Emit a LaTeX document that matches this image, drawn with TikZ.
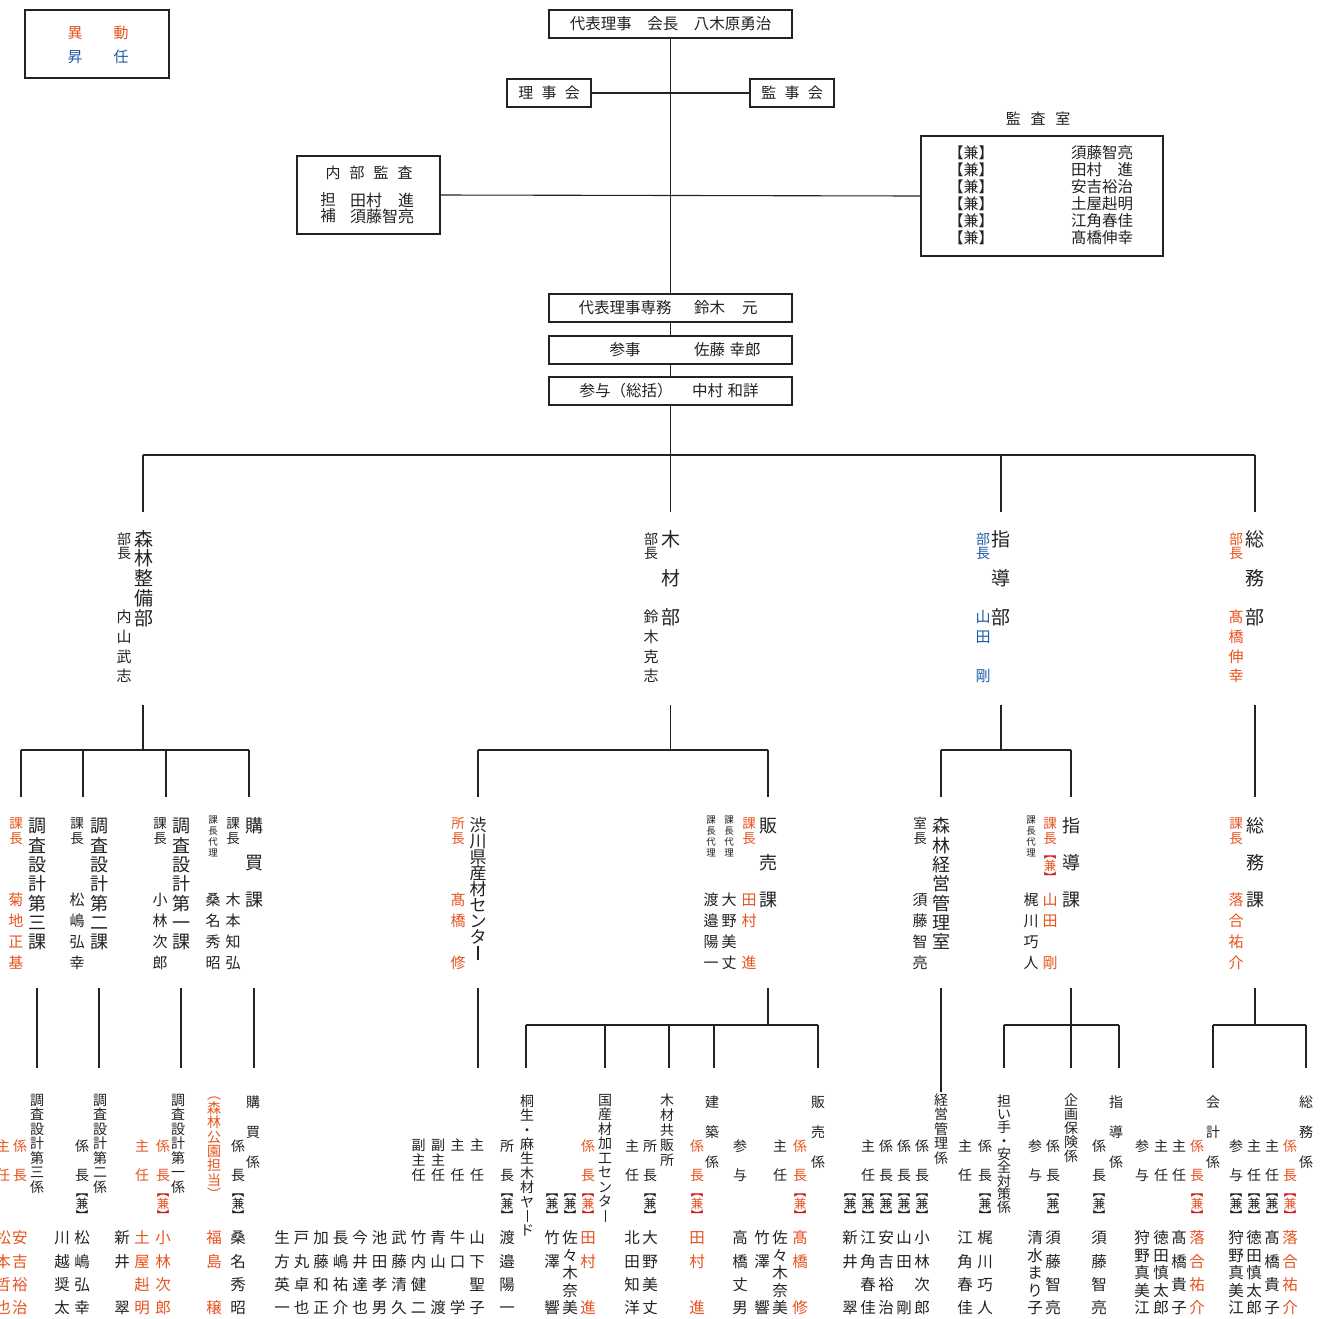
\documentclass[tikz,border=0pt]{standalone}
\usepackage{fontspec}
\setmainfont{Noto Sans CJK JP}
\definecolor{ored}{HTML}{E8531F}
\definecolor{oblue}{HTML}{1D5BAA}
\definecolor{bred}{HTML}{D01A1A}
\definecolor{ink}{HTML}{222222}
\newcommand\cjkstrut{\vrule height .88em depth .12em width 0pt\relax}
\newcommand\vlong{\rule[-0.04em]{0.065em}{0.84em}}
\ExplSyntaxOn
\cs_new_protected:Npn \my_vt:nn #1#2
 {
  \vbox:n
   {
    \skip_set:Nn \baselineskip {#1}
    \skip_set:Nn \lineskip {0pt}
    \dim_set:Nn \lineskiplimit {-1000pt}
    \tl_map_inline:nn {#2}
     { \hbox_to_wd:nn {1em} { \hfil \cjkstrut ##1 \hfil } }
   }
 }
\cs_generate_variant:Nn \my_vt:nn {no}
\NewDocumentCommand\vt{mm}{ \my_vt:no {#1} {#2} }
\ExplSyntaxOff
% \vc[opts]{name}{x}{y of first char centre}{pitch}{size}{chars}
\newcommand\vc[7][]{\node[vcol,#1] (#2) at (#3,{#4-0.5*#6}) {\fontsize{#6}{#6}\selectfont\vt{#5pt}{#7}};}
% \kenv{name}{x}{y centre}{bracket colour}{ken colour}
\newcommand\kenv[5]{\vc{#1}{#2}{#3-12}{12}{12.5}{{\color{#4}︻}{\color{#5}兼}{\color{#4}︼}}}
\begin{document}
\begin{tikzpicture}[x=1pt,y=-1pt,
  ln/.style={draw=ink, line width=1.1pt},
  box/.style={draw=ink, line width=1.3pt, inner sep=0pt, text=ink},
  tx/.style={inner sep=0pt, outer sep=0pt, text=ink, font=\fontsize{#1}{#1}\selectfont, execute at begin node=\cjkstrut},
  vcol/.style={anchor=north, inner sep=0pt, outer sep=0pt, text=ink}]
\useasboundingbox (0,0) rectangle (1321,1318);
\fill[white] (0,0) rectangle (1321,1318);

% ---------- legend ----------
\node[box, minimum width=144pt, minimum height=68pt] (legend) at (97,44) {};
\node[tx=15, text=ored] (lg1) at (75,33) {異};
\node[tx=15, text=ored] (lg2) at (121,33) {動};
\node[tx=15, text=oblue] (lg3) at (75,57) {昇};
\node[tx=15, text=oblue] (lg4) at (121,57) {任};

% ---------- top ----------
\node[box, minimum width=243pt, minimum height=28pt, font=\fontsize{15.5}{15.5}\selectfont] (pres) at (670.5,24) {代表理事　会長　八木原勇治};
\node[box, minimum width=84pt, minimum height=28pt, font=\fontsize{15}{15}\selectfont] (riji) at (549,93) {理\hspace{.55em}事\hspace{.55em}会};
\node[box, minimum width=84pt, minimum height=28pt, font=\fontsize{15}{15}\selectfont] (kanji) at (792,93) {監\hspace{.55em}事\hspace{.55em}会};

\node[box, minimum width=143pt, minimum height=78pt] (naibu) at (368.5,195) {};
\node[tx=15] (nb1) at (369,173) {内\hspace{.6em}部\hspace{.6em}監\hspace{.6em}査};
\node[tx=15.5] (nb2) at (328,200) {担};
\node[tx=15.5] (nb3) at (328,216) {補};
\node[tx=16, anchor=west] (nb4) at (350,200) {田村　進};
\node[tx=16, anchor=west] (nb5) at (350,216) {須藤智亮};

\node[tx=15] (kslabel) at (1038,119) {監\hspace{.65em}査\hspace{.65em}室};
\node[box, minimum width=242pt, minimum height=120pt] (kansa) at (1042,196) {};
\foreach \nm [count=\i from 0] in {須藤智亮,田村　進,安吉裕治,土屋赳明,江角春佳,髙橋伸幸} {
  \node[tx=15, anchor=west] (kk\i) at (948.5,{153+17*\i}) {【兼】};
  \node[tx=15.5, anchor=west] (kn\i) at (1071,{153+17*\i}) {\nm};
}

\node[box, minimum width=243pt, minimum height=28pt] (senmu) at (670.5,308) {};
\node[tx=15.5] (senmuL) at (625,308) {代表理事専務};
\node[tx=15.5, anchor=west] (senmuR) at (694,308) {鈴木\hspace{1.1em}元};
\node[box, minimum width=243pt, minimum height=28pt] (sanji) at (670.5,350) {};
\node[tx=15.5] (sanjiL) at (625,350) {参事};
\node[tx=15.5, anchor=west] (sanjiR) at (694,350) {佐藤\hspace{.3em}幸郎};
\node[box, minimum width=243pt, minimum height=28pt] (sanyo) at (670.5,391) {};
\node[tx=15.5] (sanyoL) at (626,391) {参与（総括）};
\node[tx=15.5, anchor=west] (sanyoR) at (692,391) {中村\hspace{.3em}和詳};

% ---------- top connectors ----------
\draw[ln] (pres.south) -- (senmu.north);
\draw[ln] (riji.east) -- (kanji.west);
\draw[ln] (naibu.east) -- (kansa.west);
\draw[ln] (senmu.south) -- (sanji.north);
\draw[ln] (sanji.south) -- (sanyo.north);
\coordinate (bM) at (670.5,455);
\draw[ln] (sanyo.south) -- (bM);
\coordinate (bL) at (143,455);
\coordinate (bR) at (1255,455);
\draw[ln] (bL) -- (bR);
\foreach \n/\x in {A/143,B/670.5,C/1001,D/1255} {
  \coordinate (u\n) at (\x,455); \coordinate (v\n) at (\x,512); \draw[ln] (u\n) -- (v\n);
}
\foreach \n/\x/\yb in {A/143/750,B/670.5/750,C/1001/750,D/1255/797} {
  \coordinate (w\n) at (\x,705); \coordinate (z\n) at (\x,\yb); \draw[ln] (w\n) -- (z\n);
}
\coordinate (sb1) at (21,750); \coordinate (sb2) at (249,750); \draw[ln] (sb1) -- (sb2);
\coordinate (sb3) at (478,750); \coordinate (sb4) at (768,750); \draw[ln] (sb3) -- (sb4);
\coordinate (sb5) at (941,750); \coordinate (sb6) at (1071,750); \draw[ln] (sb5) -- (sb6);
\foreach \x in {21,83,166,249,478,768,941,1071} {
  \coordinate (q\x) at (\x,750); \coordinate (r\x) at (\x,797); \draw[ln] (q\x) -- (r\x);
}
\foreach \x/\yb in {37/1068,99/1068,181/1068,254/1068,478/1068,768/1025,941/1092,1071/1068,1255/1025} {
  \coordinate (s\x) at (\x,988); \coordinate (t\x) at (\x,\yb); \draw[ln] (s\x) -- (t\x);
}
\coordinate (ub1) at (526,1025); \coordinate (ub2) at (818,1025); \draw[ln] (ub1) -- (ub2);
\coordinate (ub3) at (1004,1025); \coordinate (ub4) at (1119,1025); \draw[ln] (ub3) -- (ub4);
\coordinate (ub5) at (1213,1025); \coordinate (ub6) at (1306,1025); \draw[ln] (ub5) -- (ub6);
\foreach \x in {526,605,669,714,818,1004,1119,1213,1306} {
  \coordinate (m\x) at (\x,1025); \coordinate (n\x) at (\x,1068); \draw[ln] (m\x) -- (n\x);
}

% ---------- departments ----------
\vc{dA}{144}{539}{19.7}{19}{森林整備部}
\vc{dAt}{124}{539}{14}{14}{部長}
\vc{dAn}{124}{617}{19.7}{15}{内山武志}
\vc{dB}{670.5}{539}{19.5}{19}{木~材~部}
\vc{dBt}{651}{539}{14}{14}{部長}
\vc{dBn}{651}{617}{19.7}{15}{鈴木克志}
\vc{dC}{1001}{539}{19.5}{19}{指~導~部}
\vc[text=oblue]{dCt}{983}{539}{14}{14}{部長}
\vc[text=oblue]{dCn}{983}{617}{19.7}{15}{山田~剛}
\vc{dD}{1255}{539}{19.5}{19}{総~務~部}
\vc[text=ored]{dDt}{1236}{539}{14}{14}{部長}
\vc[text=ored]{dDn}{1236}{617}{19.7}{15}{髙橋伸幸}

% ---------- sections ----------
\vc{sA}{37}{826}{19.3}{18}{調査設計第三課}
\vc[text=ored]{sAt}{16}{823}{15}{13.5}{課長}
\vc[text=ored]{sAn}{16}{900}{20.8}{15}{菊地正基}
\vc{sB}{99}{826}{19.3}{18}{調査設計第二課}
\vc{sBt}{77}{823}{15}{13.5}{課長}
\vc{sBn}{77}{900}{20.8}{15}{松嶋弘幸}
\vc{sC}{181}{826}{19.3}{18}{調査設計第一課}
\vc{sCt}{160}{823}{15}{13.5}{課長}
\vc{sCn}{160}{900}{20.8}{15}{小林次郎}
\vc{sD}{254}{826}{18.5}{18}{購~買~課}
\vc{sDt}{233}{823}{15}{13.5}{課長}
\vc{sDd}{213}{820}{11}{9.5}{課長代理}
\vc{sDn1}{233}{900}{20.8}{15}{木本知弘}
\vc{sDn2}{213}{900}{20.8}{15}{桑名秀昭}
\vc{sE}{478}{825}{16}{17}{渋川県産材センタ\vlong}
\vc[text=ored]{sEt}{458}{823}{15}{13.5}{所長}
\vc[text=ored]{sEn}{458}{900}{20.8}{15}{髙橋~修}
\vc{sF}{768}{826}{18.5}{18}{販~売~課}
\vc[text=ored]{sFt}{749}{823}{15}{13.5}{課長}
\vc{sFd1}{729}{820}{11}{9.5}{課長代理}
\vc{sFd2}{711}{820}{11}{9.5}{課長代理}
\vc[text=ored]{sFn1}{749}{900}{20.8}{15}{田村~進}
\vc{sFn2}{729}{900}{20.8}{15}{大野美丈}
\vc{sFn3}{711}{900}{20.8}{15}{渡邉陽一}
\vc{sG}{941}{826}{19.3}{18}{森林経営管理室}
\vc{sGt}{920}{823}{15}{13.5}{室長}
\vc{sGn}{920}{900}{20.8}{15}{須藤智亮}
\vc{sH}{1071}{826}{18.5}{18}{指~導~課}
\vc[text=ored]{sHt}{1050}{823}{15}{13.5}{課長}
\kenv{sHk}{1050}{866}{bred}{ored}
\vc{sHd}{1031}{820}{11}{9.5}{課長代理}
\vc[text=ored]{sHn1}{1050}{900}{20.8}{15}{山田~剛}
\vc{sHn2}{1031}{900}{20.8}{15}{梶川巧人}
\vc{sI}{1255}{826}{18.5}{18}{総~務~課}
\vc[text=ored]{sIt}{1236}{823}{15}{13.5}{課長}
\vc[text=ored]{sIn}{1236}{900}{20.8}{15}{落合祐介}

% ---------- bottom: 森林整備部 ----------
\vc{bA}{37}{1100}{14.5}{14}{調査設計第三係}
\vc[text=ored]{bAt1}{20}{1146}{29}{14}{係長}
\vc[text=ored]{bAt2}{3}{1146}{29}{14}{主任}
\vc[text=ored]{bAn1}{20}{1238}{23.3}{15.5}{安吉裕治}
\vc[text=ored]{bAn2}{3}{1238}{23.3}{15.5}{松本哲也}
\vc{bB}{100}{1100}{14.5}{14}{調査設計第二係}
\vc{bBt}{82}{1146}{29}{14}{係長}
\kenv{bBk}{82}{1204}{ink}{ink}
\vc{bBn1}{82}{1238}{23.3}{15.5}{松嶋弘幸}
\vc{bBn2}{62}{1238}{23.3}{15.5}{川越奨太}
\vc{bC}{178}{1100}{14.5}{14}{調査設計第一係}
\vc[text=ored]{bCt1}{163}{1146}{29}{14}{係長}
\kenv{bCk}{163}{1204}{bred}{ored}
\vc[text=ored]{bCt2}{142}{1146}{29}{14}{主任}
\vc[text=ored]{bCn1}{163}{1238}{23.3}{15.5}{小林次郎}
\vc[text=ored]{bCn2}{142}{1238}{23.3}{15.5}{土屋赳明}
\vc{bCn3}{122}{1238}{23.3}{15.5}{新井~翠}
\vc{bD}{253}{1102}{15}{14}{購~買~係}
\vc{bDt}{238}{1146}{29}{14}{係長}
\kenv{bDk}{238}{1204}{ink}{ink}
\vc[text=ored]{bDp}{214}{1094}{14.3}{14}{︵森林公園担当︶}
\vc{bDn1}{238}{1238}{23.3}{15.5}{桑名秀昭}
\vc[text=ored]{bDn2}{214}{1238}{23.3}{15.5}{福島~穣}

% ---------- bottom: 渋川県産材センター ----------
\vc{bEh1}{418.5}{1145}{15}{14}{副主任}
\vc{bEh2}{438}{1145}{15}{14}{副主任}
\vc{bEh3}{457.5}{1145}{30}{14}{主任}
\vc{bEh4}{477}{1145}{30}{14}{主任}
\foreach \xx/\nm [count=\i] in {282/生方英一,301.5/戸丸卓也,321/加藤和正,340.5/長嶋祐介,360/今井達也,379.5/池田孝男,399/武藤清久,418.5/竹内健二,438/青山~渡,457.5/牛口~学,477/山下聖子} {
  \vc{bEn\i}{\xx}{1238}{23.3}{15.5}{\nm}
}

% ---------- bottom: 販売課 ----------
\vc{bF1}{527}{1101}{14.4}{14}{桐生・麻生木材ヤ\vlong ド}
\vc{bF1t}{507}{1146}{29}{14}{所長}
\kenv{bF1k}{507}{1204}{ink}{ink}
\vc{bF1n}{507}{1238}{23.3}{15.5}{渡邉陽一}
\kenv{bFk2}{552}{1204}{ink}{ink}
\kenv{bFk3}{570}{1204}{ink}{ink}
\vc[text=ored]{bFt4}{588}{1146}{29}{14}{係長}
\kenv{bFk4}{588}{1204}{bred}{ored}
\vc{bFn2}{552}{1238}{23.3}{15.5}{竹澤~響}
\vc{bFn3}{570}{1238}{17.5}{15.5}{佐々木奈美}
\vc[text=ored]{bFn4}{588}{1238}{23.3}{15.5}{田村~進}
\vc{bF2}{605}{1100}{14.5}{14}{国産材加工センタ\vlong}
\vc{bF2t}{632}{1146}{29}{14}{主任}
\vc{bF2n}{632}{1238}{23.3}{15.5}{北田知洋}
\vc{bF3t}{650}{1146}{29}{14}{所長}
\kenv{bF3k}{650}{1204}{ink}{ink}
\vc{bF3n}{650}{1238}{23.3}{15.5}{大野美丈}
\vc{bF3}{667}{1100}{15}{14}{木材共販所}
\vc[text=ored]{bF4t}{697}{1146}{29}{14}{係長}
\kenv{bF4k}{697}{1204}{bred}{ored}
\vc[text=ored]{bF4n}{697}{1238}{23.3}{15.5}{田村~進}
\vc{bF4}{712}{1102}{15}{14}{建~築~係}
\vc{bF5t1}{740}{1146}{29}{14}{参与}
\vc{bF5n1}{740}{1238}{23.3}{15.5}{高橋丈男}
\vc{bF5n2}{762}{1238}{23.3}{15.5}{竹澤~響}
\vc{bF5t2}{780}{1146}{29}{14}{主任}
\vc{bF5n3}{780}{1238}{17.5}{15.5}{佐々木奈美}
\vc[text=ored]{bF5t3}{800}{1146}{29}{14}{係長}
\kenv{bF5k}{800}{1204}{bred}{ored}
\vc[text=ored]{bF5n4}{800}{1238}{23.3}{15.5}{髙橋~修}
\vc{bF5}{818}{1102}{15}{14}{販~売~係}

% ---------- bottom: 森林経営管理室 ----------
\vc{bG}{941}{1100}{14.5}{14}{経営管理係}
\vc{bGt1}{868}{1146}{29}{14}{主任}
\vc{bGt2}{886}{1146}{29}{14}{係長}
\vc{bGt3}{904}{1146}{29}{14}{係長}
\vc{bGt4}{922}{1146}{29}{14}{係長}
\foreach \xx/\nm [count=\i] in {850/新井~翠,868/江角春佳,886/安吉裕治,904/山田~剛,922/小林次郎} {
  \kenv{bGk\i}{\xx}{1204}{ink}{ink}
  \vc{bGn\i}{\xx}{1238}{23.3}{15.5}{\nm}
}

% ---------- bottom: 指導課 ----------
\vc{bH1}{1004}{1101}{13.3}{14}{担い手・安全対策係}
\vc{bH1t1}{965}{1146}{29}{14}{主任}
\vc{bH1t2}{985}{1146}{29}{14}{係長}
\kenv{bH1k}{985}{1204}{ink}{ink}
\vc{bH1n1}{965}{1238}{23.3}{15.5}{江角春佳}
\vc{bH1n2}{985}{1238}{23.3}{15.5}{梶川巧人}
\vc{bH2}{1071}{1100}{14}{14}{企画保険係}
\vc{bH2t1}{1035}{1146}{29}{14}{参与}
\vc{bH2t2}{1053}{1146}{29}{14}{係長}
\kenv{bH2k}{1053}{1204}{ink}{ink}
\vc{bH2n1}{1035}{1238}{17.5}{15.5}{清水まり子}
\vc{bH2n2}{1053}{1238}{23.3}{15.5}{須藤智亮}
\vc{bH3t}{1099}{1146}{29}{14}{係長}
\kenv{bH3k}{1099}{1204}{ink}{ink}
\vc{bH3n}{1099}{1238}{23.3}{15.5}{須藤智亮}
\vc{bH3}{1116}{1102}{15}{14}{指~導~係}

% ---------- bottom: 総務課 ----------
\vc{bI1}{1213}{1102}{15}{14}{会~計~係}
\vc{bI1t1}{1142}{1146}{29}{14}{参与}
\vc{bI1t2}{1161}{1146}{29}{14}{主任}
\vc{bI1t3}{1179}{1146}{29}{14}{主任}
\vc[text=ored]{bI1t4}{1197}{1146}{29}{14}{係長}
\kenv{bI1k}{1197}{1204}{bred}{ored}
\vc{bI1n1}{1142}{1238}{17.5}{15.5}{狩野真美江}
\vc{bI1n2}{1161}{1238}{17.5}{15.5}{徳田慎太郎}
\vc{bI1n3}{1179}{1238}{23.3}{15.5}{髙橋貴子}
\vc[text=ored]{bI1n4}{1197}{1238}{23.3}{15.5}{落合祐介}
\vc{bI2}{1306}{1102}{15}{14}{総~務~係}
\vc{bI2t1}{1236}{1146}{29}{14}{参与}
\vc{bI2t2}{1254}{1146}{29}{14}{主任}
\vc{bI2t3}{1272}{1146}{29}{14}{主任}
\vc[text=ored]{bI2t4}{1290}{1146}{29}{14}{係長}
\kenv{bI2k1}{1236}{1204}{ink}{ink}
\kenv{bI2k2}{1254}{1204}{ink}{ink}
\kenv{bI2k3}{1272}{1204}{ink}{ink}
\kenv{bI2k4}{1290}{1204}{bred}{ored}
\vc{bI2n1}{1236}{1238}{17.5}{15.5}{狩野真美江}
\vc{bI2n2}{1254}{1238}{17.5}{15.5}{徳田慎太郎}
\vc{bI2n3}{1272}{1238}{23.3}{15.5}{髙橋貴子}
\vc[text=ored]{bI2n4}{1290}{1238}{23.3}{15.5}{落合祐介}
\end{tikzpicture}
\end{document}
